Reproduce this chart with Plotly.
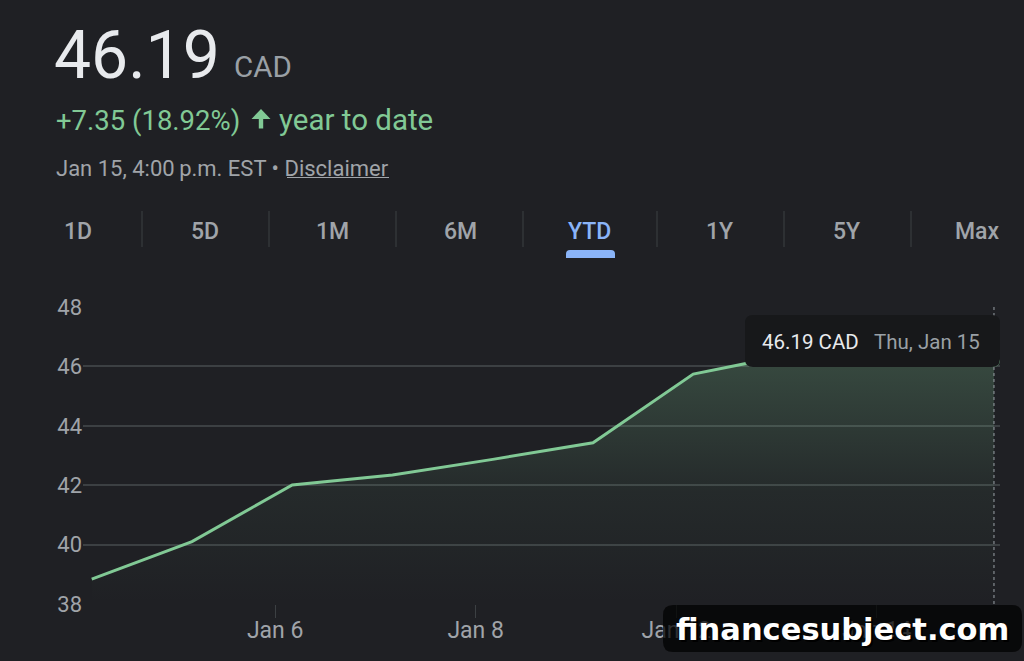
import plotly.graph_objects as go

# ---------------- data ----------------
dates = ["Jan 2", "Jan 5", "Jan 6", "Jan 7", "Jan 8", "Jan 9", "Jan 12", "Jan 13", "Jan 14", "Jan 15"]
prices = [38.84, 40.10, 42.01, 42.34, 42.87, 43.43, 45.74, 46.42, 46.28, 46.19]
tick_dates = ["Jan 6", "Jan 8", "Jan 12", "Jan 14"]
y_ticks = [38, 40, 42, 44, 46, 48]
tabs = ["1D", "5D", "1M", "6M", "YTD", "1Y", "5Y", "Max"]
active_tab = "YTD"
price_text = "46.19"
currency = "CAD"
change_text = "+7.35 (18.92%)"
period_text = "year to date"
stamp_text = "Jan 15, 4:00\u2009p.m. EST \u2022 "
disclaimer = "Disclaimer"
tooltip_value = "46.19 CAD"
tooltip_date = "Thu, Jan 15"
watermark = "financesubject.com"

# ---------------- style ----------------
BG = "#1f2024"
GRID = "#3c4043"
GREEN = "#81c995"
GREY = "#a0a4a9"
WHITE = "#e8eaed"
BLUE = "#8ab4f8"
FONT = "Roboto"

L, R, T, B = 83, 1000, 307, 604
W, H = R - L, B - T


def px(x):
    return (x - L) / W


def py(y):
    return (B - y) / H


def rrect(x0, y0, x1, y1, r, top_only=False):
    """rounded rectangle path in paper coords from pixel values"""
    rb = 0 if top_only else r
    pts = [
        f"M{px(x0 + r)},{py(y0)}",
        f"L{px(x1 - r)},{py(y0)}",
        f"Q{px(x1)},{py(y0)} {px(x1)},{py(y0 + r)}",
        f"L{px(x1)},{py(y1 - rb)}",
        f"Q{px(x1)},{py(y1)} {px(x1 - rb)},{py(y1)}",
        f"L{px(x0 + rb)},{py(y1)}",
        f"Q{px(x0)},{py(y1)} {px(x0)},{py(y1 - rb)}",
        f"L{px(x0)},{py(y0 + r)}",
        f"Q{px(x0)},{py(y0)} {px(x0 + r)},{py(y0)}",
        "Z",
    ]
    return " ".join(pts)


def poly(points):
    return "M" + " L".join(f"{px(x)},{py(y)}" for x, y in points) + " Z"


xs = list(range(len(dates)))
tickvals = [dates.index(d) - 0.17 for d in tick_dates]

fig = go.Figure()
fig.add_trace(go.Scatter(
    x=xs, y=prices, mode="lines",
    line=dict(color=GREEN, width=3),
    fill="tozeroy",
    fillgradient=dict(type="vertical",
                      colorscale=[[0, "rgba(129,201,149,0)"], [0.45, "rgba(129,201,149,0.06)"],
                                  [1, "rgba(129,201,149,0.25)"]],
                      start=38, stop=46.4),
    hoverinfo="skip",
))
fig.add_trace(go.Scatter(
    x=[xs[-1]], y=[prices[-1]], mode="markers",
    marker=dict(color=GREEN, size=12), hoverinfo="skip",
))

shapes = []
# dashed crosshair
shapes.append(dict(type="line", xref="x", yref="paper", x0=xs[-1], x1=xs[-1], y0=0, y1=1,
                   line=dict(color="#9aa0a6", width=1, dash="dot"), layer="above"))
# tooltip box
shapes.append(dict(type="path", xref="paper", yref="paper", path=rrect(745, 315, 1000, 367, 8),
                   fillcolor="#17181a", line=dict(width=0), layer="above"))
# tab separators
for sx in [142, 269, 396, 523, 657, 784, 911]:
    shapes.append(dict(type="line", xref="paper", yref="paper", x0=px(sx), x1=px(sx),
                       y0=py(211), y1=py(247), line=dict(color=GRID, width=1)))
# active tab indicator
shapes.append(dict(type="path", xref="paper", yref="paper", path=rrect(566, 250, 615, 258, 4, top_only=True),
                   fillcolor=BLUE, line=dict(width=0)))
# disclaimer underline
shapes.append(dict(type="line", xref="paper", yref="paper", x0=px(287), x1=px(389),
                   y0=py(177.5), y1=py(177.5), line=dict(color=GREY, width=1.2)))
# up arrow icon
shapes.append(dict(type="path", xref="paper", yref="paper",
                   path=poly([(261, 109), (270.5, 119), (263.2, 119), (263.2, 128.5),
                              (258.8, 128.5), (258.8, 119), (251.5, 119)]),
                   fillcolor=GREEN, line=dict(width=0)))
# watermark box
shapes.append(dict(type="path", xref="paper", yref="paper", path=rrect(663, 605, 1022, 652, 10),
                   fillcolor="rgba(0,0,0,0.72)", line=dict(width=0), layer="above"))

ann = []


def text(t, x, y, size, color, xanchor="left", weight=None, family=FONT):
    f = dict(family=family, size=size, color=color)
    if weight:
        f["weight"] = weight
    ann.append(dict(text=t, x=px(x), y=py(y), xref="paper", yref="paper",
                    xanchor=xanchor, yanchor="middle", showarrow=False, font=f))


text(price_text, 52, 55, 66, WHITE)
text(currency, 232, 67, 29.5, "#9aa0a6")
text(change_text, 54, 120, 27.5, GREEN)
text(period_text, 277, 120, 29.5, GREEN)
text(stamp_text + disclaimer, 54, 168, 22, GREY)

tab_x = [78, 205, 332, 460, 589, 719, 846, 977]
for tx, tb in zip(tab_x, tabs):
    text(tb, tx, 232, 23, BLUE if tb == active_tab else GREY, xanchor="center", weight=500)

text(tooltip_value, 760, 342, 20.5, WHITE)
text(tooltip_date, 872, 342, 20.5, "#9aa0a6")

text(watermark, 844, 631, 30.5, "#000000", xanchor="center", weight="bold", family="DejaVu Sans")
text(watermark, 842, 629, 30.5, "#ffffff", xanchor="center", weight="bold", family="DejaVu Sans")

fig.update_layout(
    width=1024, height=661,
    margin=dict(l=L, r=1024 - R, t=T, b=661 - B),
    paper_bgcolor=BG, plot_bgcolor=BG,
    showlegend=False,
    hovermode=False,
    shapes=shapes, annotations=ann,
    xaxis=dict(range=[-0.087, 9.06], showgrid=False, zeroline=False, showline=False,
               tickvals=tickvals, ticktext=tick_dates, ticks="outside", ticklen=13,
               tickcolor=GRID, tickwidth=1, ticklabelstandoff=-8,
               tickfont=dict(family=FONT, size=23, color=GREY), fixedrange=True),
    yaxis=dict(range=[38, 48], tickvals=y_ticks, showgrid=True, gridcolor=GRID, gridwidth=1.5,
               zeroline=False, showline=False, ticks="", ticklabelstandoff=0,
               tickfont=dict(family=FONT, size=22, color=GREY), fixedrange=True),
)

fig.write_html("out.html", config={"displayModeBar": False})
